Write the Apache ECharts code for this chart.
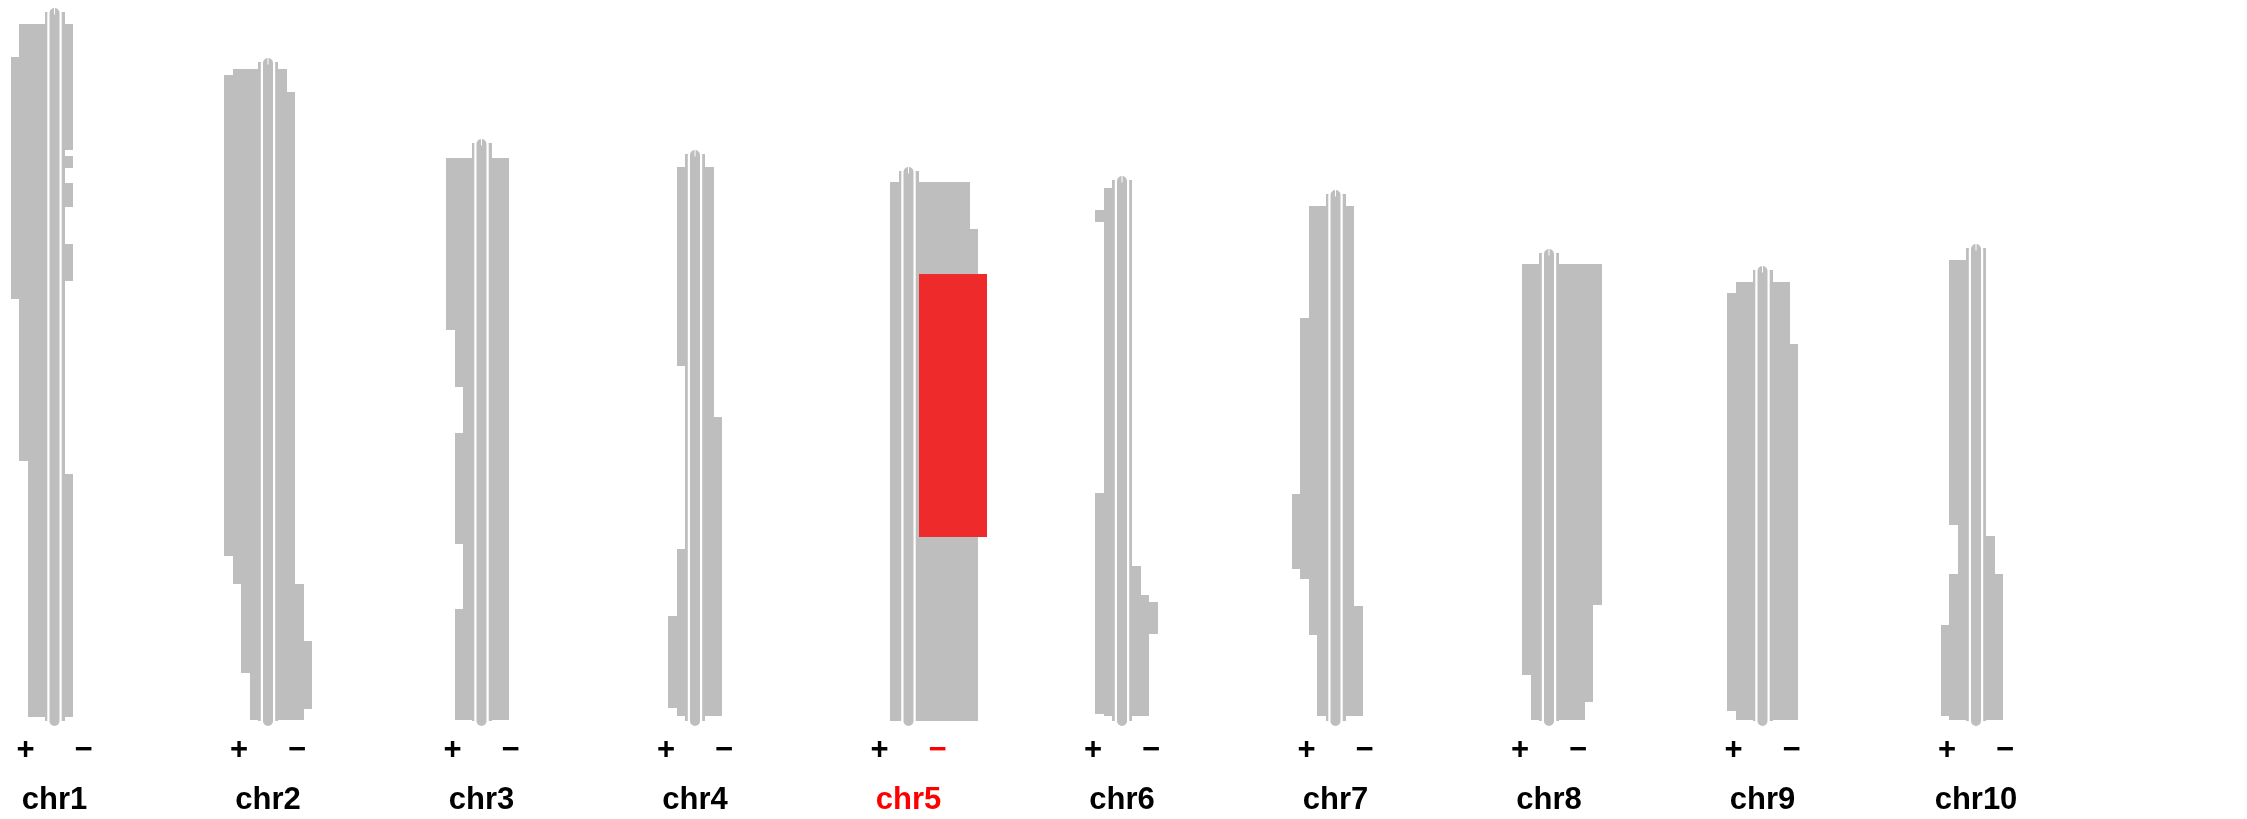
<!DOCTYPE html>
<html>
<head>
<meta charset="utf-8">
<script src="https://cdn.jsdelivr.net/npm/echarts@6/dist/echarts.min.js"></script>
<style>
html,body{margin:0;padding:0;background:#ffffff;}
#chart{width:2247px;height:819px;}
</style>
</head>
<body>
<div id="chart"></div>
<script>
// ---- data (positions in Mb from the top of each chromosome; [start, end, level]) ----
const chromosomes = ['chr1','chr2','chr3','chr4','chr5','chr6','chr7','chr8','chr9','chr10'];
const chromLengths = [296, 275, 241.4, 236.7, 229.5, 225.9, 219.9, 195.5, 188.3, 197.3];
const strandLabels = ['+', '\u2212'];
const highlightChrom = 'chr5';
const highlightStrand = '\u2212';

const chr1Plus  = [[5.2,19.1,3],[19.1,119.8,4],[119.8,187.3,3],[187.3,294,2]];
const chr1Minus = [[5.2,57.7,1],[60.2,65.2,1],[71.6,81.3,1],[96.9,112.4,1],[192.8,294,1]];
const chr2Plus  = [[3,5.3,3],[5.3,205.7,4],[205.7,217.4,3],[217.4,254.5,2],[254.5,274,1]];
const chr2Minus = [[3,12.6,1],[12.6,217.4,2],[217.4,241.1,3],[241.1,269.7,4],[269.7,274,3]];
const chr3Plus  = [[6.25,77.9,3],[77.9,101.8,2],[101.8,121,1],[121,167.25,2],[167.25,194.3,1],[194.3,240.6,2]];
const chr3Minus = [[6.25,240.6,2]];
const chr4Plus  = [[5.4,88.3,1],[164.5,192.5,1],[192.5,230.8,2],[230.8,234.4,1]];
const chr4Minus = [[5.4,109.6,1],[109.6,234.4,2]];
const chr5Plus  = [[4.7,229,1]];
const chr5Minus = [[4.7,24.2,6],[24.2,43,7],[152.4,229,7]];
const chr5MinusHighlight = [[43,152.4,8]];
const chr6Plus  = [[3.4,12.6,1],[12.6,17.4,2],[17.4,130.5,1],[130.5,222.6,2],[222.6,223.6,1]];
const chr6Minus = [[160.9,173,1],[173,175.9,2],[175.9,189.25,3],[189.25,223.6,2]];
const chr7Plus  = [[4.9,51.6,2],[51.6,125.1,3],[125.1,156.2,4],[156.2,160.5,3],[160.5,183.7,2],[183.7,217.4,1]];
const chr7Minus = [[4.9,171.4,1],[171.4,217.4,2]];
const chr8Plus  = [[4.5,175.8,2],[175.8,194.6,1]];
const chr8Minus = [[4.5,146.6,5],[146.6,187.1,4],[187.1,194.6,3]];
const chr9Plus  = [[4.9,9.75,2],[9.75,183.7,3],[183.7,187.5,2]];
const chr9Minus = [[4.9,31,2],[31,187.5,3]];
const chr10Plus  = [[4.75,115.2,2],[115.2,135.6,1],[135.6,156.7,2],[156.7,194.75,3],[194.75,196.4,2]];
const chr10Minus = [[119.7,135.6,1],[135.6,196.4,2]];

const plusTracks  = [chr1Plus,chr2Plus,chr3Plus,chr4Plus,chr5Plus,chr6Plus,chr7Plus,chr8Plus,chr9Plus,chr10Plus];
const minusTracks = [chr1Minus,chr2Minus,chr3Minus,chr4Minus,chr5Minus,chr6Minus,chr7Minus,chr8Minus,chr9Minus,chr10Minus];
const highlightTracks = {chr5: chr5MinusHighlight};

// ---- style ----
const GREY = '#bebebe';
const RED_BAR = '#ee2a2a';
const RED_TXT = '#ff0000';
const FONT = 'bold 31px "Liberation Sans", Arial, sans-serif';
const STRIP_PX = 10, UNIT_PX = 8.5, INNER_PX = 3, ROD_HALF = 6.1, ROD_STROKE = 2.2, CAP_PX = 5;

// ---- build series data ----
const segData = [];
chromosomes.forEach((c, i) => {
  plusTracks[i].forEach(s => segData.push([i, -1, s[2], s[0], s[1], 0]));
  minusTracks[i].forEach(s => segData.push([i, 1, s[2], s[0], s[1], 0]));
  (highlightTracks[c] || []).forEach(s => segData.push([i, 1, s[2], s[0], s[1], 1]));
});
const chromData = chromosomes.map((c, i) => [i, chromLengths[i]]);

const R = Math.round;

function renderSeg(params, api) {
  const i = api.value(0), side = api.value(1), level = api.value(2);
  const s = api.value(3), e = api.value(4), hl = api.value(5);
  const L = chromLengths[i];
  const pTop = api.coord([i, L - s]);
  const pBot = api.coord([i, L - e]);
  const cx = pTop[0];
  const outer = STRIP_PX + level * UNIT_PX;
  let xa, xb;
  if (side < 0) { xa = R(cx - outer); xb = R(cx - INNER_PX); }
  else { xa = R(cx + INNER_PX); xb = R(cx + outer); }
  const ya = R(pTop[1]), yb = R(pBot[1]);
  return {
    type: 'rect',
    shape: {x: xa, y: ya, width: xb - xa, height: yb - ya},
    style: {fill: hl ? RED_BAR : GREY}
  };
}

function renderChrom(params, api) {
  const i = api.value(0), L = api.value(1);
  const pTop = api.coord([i, L]);
  const pBot = api.coord([i, 0]);
  const cx = pTop[0], yT = R(pTop[1]), yB = R(pBot[1]);
  const isHL = chromosomes[i] === highlightChrom;
  const xl = R(cx - STRIP_PX), xli = R(cx - INNER_PX), xri = R(cx + INNER_PX), xr = R(cx + STRIP_PX);
  return {
    type: 'group',
    children: [
      {type: 'rect', shape: {x: xl, y: yT, width: xli - xl, height: yB - yT - 1}, style: {fill: GREY}},
      {type: 'rect', shape: {x: xri, y: yT, width: xr - xri, height: yB - yT - 1}, style: {fill: GREY}},
      {type: 'rect', shape: {x: cx - ROD_HALF, y: yT - CAP_PX, width: ROD_HALF * 2, height: yB - yT + CAP_PX * 2, r: ROD_HALF},
        style: {fill: GREY, stroke: '#ffffff', lineWidth: ROD_STROKE}},
      {type: 'line', shape: {x1: cx, y1: yT - 4, x2: cx, y2: yT + 2.5}, style: {stroke: '#ffffff', lineWidth: 1}},
      {type: 'text', style: {text: strandLabels[0], x: cx - 29, y: yB + 28, fill: '#000', font: FONT, align: 'center', verticalAlign: 'middle'}},
      {type: 'text', style: {text: strandLabels[1], x: cx + 29, y: yB + 28,
        fill: (isHL && highlightStrand === strandLabels[1]) ? RED_TXT : '#000', font: FONT, align: 'center', verticalAlign: 'middle'}},
      {type: 'text', style: {text: chromosomes[i], x: cx, y: yB + 78, fill: isHL ? RED_TXT : '#000', font: FONT, align: 'center', verticalAlign: 'middle'}}
    ]
  };
}

const chart = echarts.init(document.getElementById('chart'), null, {renderer: 'canvas'});
chart.setOption({
  animation: false,
  backgroundColor: '#ffffff',
  grid: {left: 54.5, width: 1921.5, top: 11.6, bottom: 97},
  xAxis: {type: 'value', min: 0, max: 9, show: false},
  yAxis: {type: 'value', min: 0, max: 296, show: false},
  series: [
    {type: 'custom', name: 'segments', data: segData, renderItem: renderSeg, clip: false, silent: true, z: 1},
    {type: 'custom', name: 'chromosomes', data: chromData, renderItem: renderChrom, clip: false, silent: true, z: 2}
  ]
});
</script>
</body>
</html>
